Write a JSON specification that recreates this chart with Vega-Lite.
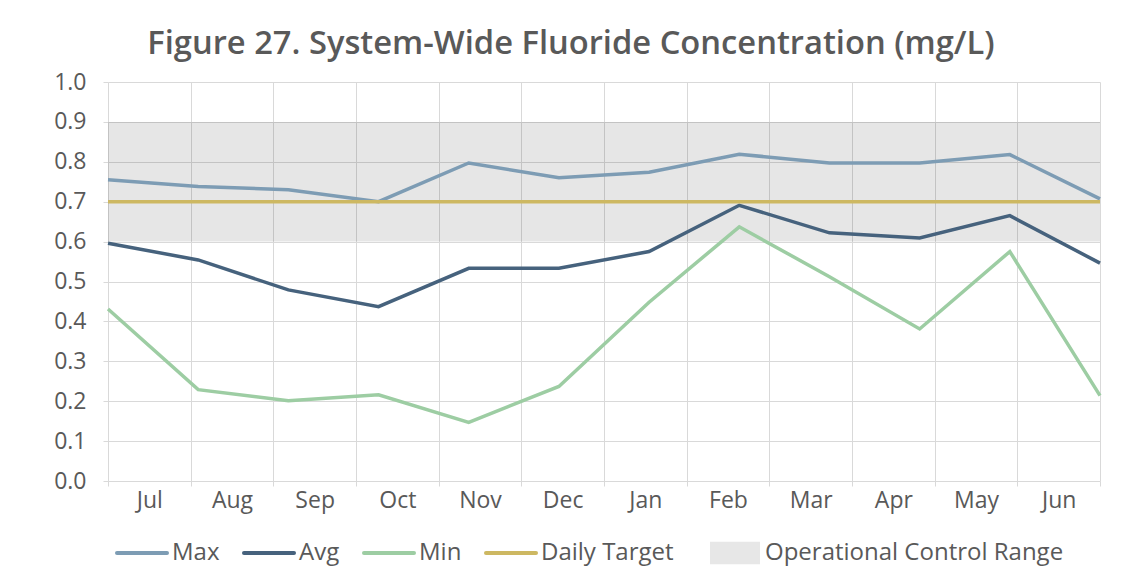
{
  "$schema": "https://vega.github.io/schema/vega-lite/v6.json",
  "width": 992,
  "height": 399,
  "autosize": {"type": "none"},
  "padding": {"left": 108, "top": 82, "right": 37, "bottom": 99},
  "background": "white",
  "title": {
    "text": "Figure 27. System-Wide Fluoride Concentration (mg/L)",
    "font": "Open Sans",
    "fontSize": 32.7,
    "fontWeight": 600,
    "color": "#595959",
    "anchor": "middle",
    "frame": "group",
    "dx": -33,
    "offset": 10
  },
  "config": {
    "view": {"stroke": null},
    "font": "Open Sans",
    "axisY": {
      "labelOverlap": false,
      "labelFont": "Open Sans",
      "labelFontSize": 23,
      "labelColor": "#595959",
      "labelPadding": 17,
      "tickSize": 5,
      "tickColor": "#d9d9d9",
      "grid": true,
      "gridColor": "#d9d9d9",
      "gridWidth": 1,
      "domain": false,
      "title": null
    }
  },
  "datasets": {
    "range": [
      {"month": "Jul", "lo": 0.6, "hi": 0.9},
      {"month": "Aug", "lo": 0.6, "hi": 0.9},
      {"month": "Sep", "lo": 0.6, "hi": 0.9},
      {"month": "Oct", "lo": 0.6, "hi": 0.9},
      {"month": "Nov", "lo": 0.6, "hi": 0.9},
      {"month": "Dec", "lo": 0.6, "hi": 0.9},
      {"month": "Jan", "lo": 0.6, "hi": 0.9},
      {"month": "Feb", "lo": 0.6, "hi": 0.9},
      {"month": "Mar", "lo": 0.6, "hi": 0.9},
      {"month": "Apr", "lo": 0.6, "hi": 0.9},
      {"month": "May", "lo": 0.6, "hi": 0.9},
      {"month": "Jun", "lo": 0.6, "hi": 0.9}
    ],
    "lines": [
      {"month": "Jul", "series": "Max", "value": 0.755},
      {"month": "Aug", "series": "Max", "value": 0.738},
      {"month": "Sep", "series": "Max", "value": 0.73},
      {"month": "Oct", "series": "Max", "value": 0.70},
      {"month": "Nov", "series": "Max", "value": 0.797},
      {"month": "Dec", "series": "Max", "value": 0.76},
      {"month": "Jan", "series": "Max", "value": 0.774},
      {"month": "Feb", "series": "Max", "value": 0.819},
      {"month": "Mar", "series": "Max", "value": 0.797},
      {"month": "Apr", "series": "Max", "value": 0.797},
      {"month": "May", "series": "Max", "value": 0.818},
      {"month": "Jun", "series": "Max", "value": 0.707},
      {"month": "Jul", "series": "Avg", "value": 0.596},
      {"month": "Aug", "series": "Avg", "value": 0.554},
      {"month": "Sep", "series": "Avg", "value": 0.479},
      {"month": "Oct", "series": "Avg", "value": 0.437},
      {"month": "Nov", "series": "Avg", "value": 0.533},
      {"month": "Dec", "series": "Avg", "value": 0.533},
      {"month": "Jan", "series": "Avg", "value": 0.575},
      {"month": "Feb", "series": "Avg", "value": 0.691},
      {"month": "Mar", "series": "Avg", "value": 0.622},
      {"month": "Apr", "series": "Avg", "value": 0.609},
      {"month": "May", "series": "Avg", "value": 0.665},
      {"month": "Jun", "series": "Avg", "value": 0.546},
      {"month": "Jul", "series": "Min", "value": 0.431},
      {"month": "Aug", "series": "Min", "value": 0.229},
      {"month": "Sep", "series": "Min", "value": 0.201},
      {"month": "Oct", "series": "Min", "value": 0.216},
      {"month": "Nov", "series": "Min", "value": 0.147},
      {"month": "Dec", "series": "Min", "value": 0.237},
      {"month": "Jan", "series": "Min", "value": 0.448},
      {"month": "Feb", "series": "Min", "value": 0.637},
      {"month": "Mar", "series": "Min", "value": 0.512},
      {"month": "Apr", "series": "Min", "value": 0.381},
      {"month": "May", "series": "Min", "value": 0.575},
      {"month": "Jun", "series": "Min", "value": 0.214},
      {"month": "Jul", "series": "Daily Target", "value": 0.7},
      {"month": "Aug", "series": "Daily Target", "value": 0.7},
      {"month": "Sep", "series": "Daily Target", "value": 0.7},
      {"month": "Oct", "series": "Daily Target", "value": 0.7},
      {"month": "Nov", "series": "Daily Target", "value": 0.7},
      {"month": "Dec", "series": "Daily Target", "value": 0.7},
      {"month": "Jan", "series": "Daily Target", "value": 0.7},
      {"month": "Feb", "series": "Daily Target", "value": 0.7},
      {"month": "Mar", "series": "Daily Target", "value": 0.7},
      {"month": "Apr", "series": "Daily Target", "value": 0.7},
      {"month": "May", "series": "Daily Target", "value": 0.7},
      {"month": "Jun", "series": "Daily Target", "value": 0.7}
    ]
  },
  "resolve": {"scale": {"x": "independent"}, "axis": {"x": "independent"}},
  "layer": [
    {
      "data": {"name": "range"},
      "mark": {"type": "bar", "fill": "#000000", "opacity": 0.097},
      "encoding": {
        "x": {
          "field": "month",
          "type": "nominal",
          "sort": null,
          "scale": {"paddingInner": 0, "paddingOuter": 0},
          "axis": {
            "title": null,
            "orient": "bottom",
            "labelAngle": 0,
            "labelFont": "Open Sans",
            "labelFontSize": 23,
            "labelColor": "#595959",
            "labelPadding": 3,
            "tickBand": "extent",
            "tickSize": 5,
            "tickColor": "#d9d9d9",
            "grid": true,
            "gridColor": "#d9d9d9",
            "gridWidth": 1,
            "domain": false
          }
        },
        "y": {
          "field": "lo",
          "type": "quantitative",
          "scale": {"domain": [0, 1], "nice": false, "zero": true},
          "axis": {
            "values": [0, 0.1, 0.2, 0.3, 0.4, 0.5, 0.6, 0.7, 0.8, 0.9, 1.0],
            "format": ".1f",
            "labelOverlap": false
          }
        },
        "y2": {"field": "hi"}
      }
    },
    {
      "data": {"name": "lines"},
      "mark": {"type": "line", "strokeWidth": 3.5, "strokeJoin": "miter"},
      "encoding": {
        "x": {
          "field": "month",
          "type": "ordinal",
          "sort": null,
          "scale": {"type": "point", "padding": 0},
          "axis": null
        },
        "y": {
          "field": "value",
          "type": "quantitative",
          "axis": {
            "values": [0, 0.1, 0.2, 0.3, 0.4, 0.5, 0.6, 0.7, 0.8, 0.9, 1.0],
            "format": ".1f",
            "labelOverlap": false
          }
        },
        "color": {
          "field": "series",
          "type": "nominal",
          "scale": {
            "domain": ["Max", "Avg", "Min", "Daily Target", "Operational Control Range"],
            "range": ["#7d9cb4", "#46627d", "#9dcda3", "#cdb862", "#e7e7e7"]
          },
          "legend": {
            "title": null,
            "orient": "none",
            "legendX": 7,
            "legendY": 459,
            "direction": "horizontal",
            "gridAlign": "none",
            "symbolType": "stroke",
            "symbolSize": 2500,
            "symbolStrokeWidth": 4,
            "labelFont": "Open Sans",
            "labelFontSize": 24,
            "labelColor": "#595959",
            "labelLimit": 500,
            "labelOffset": 33,
            "columnPadding": 16,
            "encode": {
              "symbols": {
                "update": {
                  "x": {"signal": "datum.value === 'Operational Control Range' ? 45 : 27"},
                  "strokeCap": {"value": "round"},
                  "shape": {"signal": "datum.value === 'Operational Control Range' ? 'M-1,-0.45H1V0.45H-1Z' : 'stroke'"},
                  "fill": {"signal": "datum.value === 'Operational Control Range' ? '#e7e7e7' : 'transparent'"},
                  "strokeWidth": {"signal": "datum.value === 'Operational Control Range' ? 0 : 4"}
                }
              },
              "labels": {
                "update": {
                  "dx": {"signal": "datum.value === 'Operational Control Range' ? 18 : 0"}
                }
              }
            }
          }
        }
      }
    }
  ]
}
